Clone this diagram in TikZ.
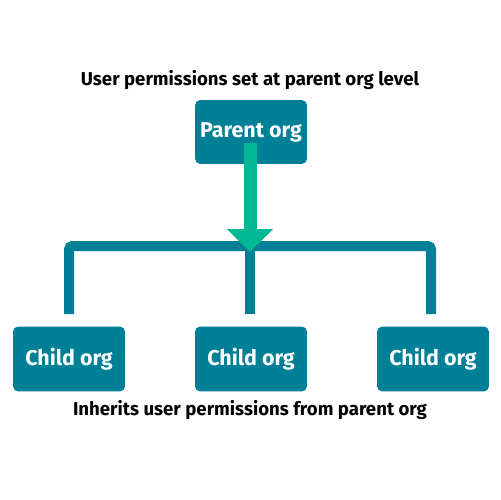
\documentclass[tikz,border=0pt]{standalone}
\usepackage{fontspec}
\setmainfont{Fira Sans}
\usetikzlibrary{arrows.meta}
\definecolor{orgteal}{RGB}{0,128,150}
\definecolor{orggreen}{RGB}{0,184,148}
\tikzset{
  orgbox/.style = {fill=orgteal, rounded corners=3pt, text=white, font=\bfseries\fontsize{12.2}{14}\selectfont,
                   minimum width=2.24cm, minimum height=1.28cm, inner sep=0pt},
  caption/.style = {font=\bfseries\fontsize{10.6}{12}\selectfont, text=black},
  branch/.style = {draw=orgteal, line width=0.2cm, rounded corners=2pt},
  push/.style = {draw=orggreen, line width=0.26cm, -{Triangle[width=0.9cm,length=0.46cm]}}
}
\begin{document}
\begin{tikzpicture}[x=0.02cm, y=-0.02cm]
\useasboundingbox (0,0) rectangle (500,500);
\fill[white] (0,0) rectangle (500,500);
\node [caption] (top) at (250,80) {User permissions set at parent org level};
\node [orgbox] (par) at (251,132) {Parent org};
\node [orgbox, minimum height=1.3cm] (c1) at (69,359) {Child org};
\node [orgbox, minimum height=1.3cm] (c2) at (251,359) {Child org};
\node [orgbox, minimum height=1.3cm] (c3) at (433,359) {Child org};
\node [caption] (bot) at (250,410) {Inherits user permissions from parent org};
\coordinate (hub) at (250,246);
% tree lines down to the children
\draw [branch, shorten <=0.24cm, shorten >=0.24cm] (c1.north -| 69,0) |- (hub) -| (c3.north -| 431,0);
\draw [branch, shorten >=0.24cm] (hub) -- (hub |- c2.north);
% permissions flow down
\draw [push] ([yshift=0.42cm]par.south -| hub) -- ([yshift=-0.12cm]hub);
\end{tikzpicture}
\end{document}
